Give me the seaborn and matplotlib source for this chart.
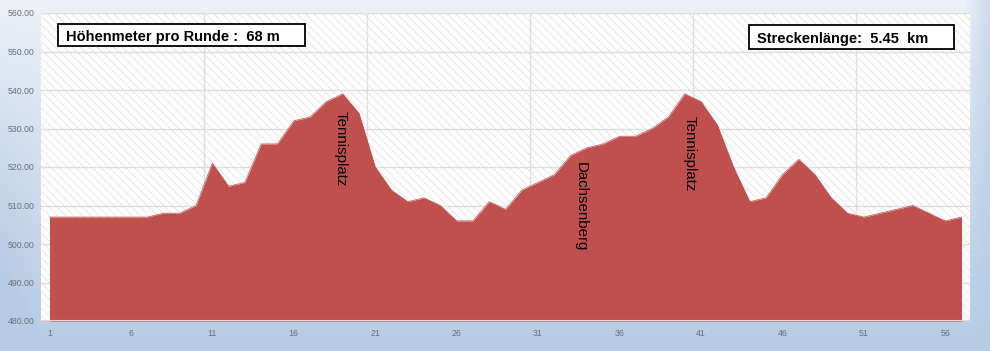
import numpy as np
import pandas as pd
import matplotlib
matplotlib.use("Agg")
import matplotlib.pyplot as plt
import seaborn as sns
from matplotlib.patches import Rectangle

# ---- data ----
points = list(range(1, 58))
elevation = [507, 507, 507, 507, 507, 507, 507, 508, 508, 510,
             521, 515, 516, 526, 526, 532, 533, 537, 539, 534,
             520, 514, 511, 512, 510, 506, 506, 511, 509, 514,
             516, 518, 523, 525, 526, 528, 528, 530, 533, 539,
             537, 531, 520, 511, 512, 518, 522, 518, 512, 508,
             507, 508, 509, 510, 508, 506, 507]
y_ticks = [480, 490, 500, 510, 520, 530, 540, 550, 560]
x_ticks = [1, 6, 11, 16, 21, 26, 31, 36, 41, 46, 51, 56]
place_labels = ["Tennisplatz", "Dachsenberg", "Tennisplatz"]
place_x = [18.85, 33.6, 40.3]
place_y = [534.5, 521.3, 533.3]
info_left = "Höhenmeter pro Runde :  68 m"
info_right = "Streckenlänge:  5.45  km"

df = pd.DataFrame({"Punkt": points, "Hoehe": elevation})

sns.set_theme(style="white")
plt.rcParams["font.family"] = ["Liberation Sans", "DejaVu Sans"]
plt.rcParams["hatch.linewidth"] = 0.6

W, H = 990, 351
fig = plt.figure(figsize=(W / 100, H / 100), dpi=100)

# background gradient
bg = fig.add_axes([0, 0, 1, 1], zorder=-10)
yy, xx = np.mgrid[0:H, 0:W]
yf = yy / (H - 1)
xf = xx / (W - 1)
t = np.clip(0.05 + 0.95 * yf ** 0.9
            + 0.55 * np.clip((xf - 0.975) / 0.025, 0, 1) * (1 - yf)
            + 0.25 * np.clip((0.04 - xf) / 0.04, 0, 1) * yf, 0, 1)
top = np.array([0xf1, 0xf4, 0xf9]) / 255
bot = np.array([0xb6, 0xcb, 0xe4]) / 255
img = top[None, None, :] * (1 - t[..., None]) + bot[None, None, :] * t[..., None]
bg.imshow(img, aspect="auto", extent=[0, 1, 0, 1], origin="upper")
bg.axis("off")

ax = fig.add_axes([41 / W, 30 / H, 929 / W, 308 / H])
ax.set_facecolor("white")
ax.add_patch(Rectangle((0, 0), 1, 1, transform=ax.transAxes, facecolor="white",
                       edgecolor="#e2e2e2", hatch="\\\\\\\\", linewidth=0, zorder=0))

ax.set_xlim(0.48, 57.52)
ax.set_ylim(480, 560)

# grid
for yv in y_ticks[1:]:
    ax.axhline(yv, color="#dedede", lw=1.0, zorder=1)
for xv in [10.5, 20.5, 30.5, 40.5, 50.5]:
    ax.axvline(xv, color="#dedede", lw=1.0, zorder=1)

sns.lineplot(data=df, x="Punkt", y="Hoehe", ax=ax, color="#c0504d", lw=0.5, zorder=3)
ax.fill_between(df["Punkt"], df["Hoehe"], 480, color="#c0504d", lw=0, zorder=3)
ax.axhline(480, color="#e6d3d2", lw=1.5, zorder=4)

ax.set_yticks(y_ticks)
ax.set_yticklabels([f"{v:.2f}" for v in y_ticks], fontsize=6.3, color="#66707c")
ax.set_xticks(x_ticks)
ax.set_xticklabels([str(v) for v in x_ticks], fontsize=6.3, color="#66707c")
ax.tick_params(axis="y", length=0, pad=4.5)
ax.tick_params(axis="x", length=0, pad=6)
ax.set_xlabel("")
ax.set_ylabel("")
for s in ax.spines.values():
    s.set_visible(False)

for lab, xv, yv in zip(place_labels, place_x, place_y):
    ax.text(xv, yv, lab, rotation=-90, ha="center", va="top", fontsize=10.8,
            color="black", zorder=5)

# info boxes (figure pixel coords converted to fraction)
def box(x0, y0, x1, y1, tx, text):
    fig.patches.append(Rectangle((x0 / W, 1 - y1 / H), (x1 - x0) / W, (y1 - y0) / H,
                                 transform=fig.transFigure, facecolor="white",
                                 edgecolor="black", lw=1.3, zorder=20))
    fig.text(tx / W, 1 - ((y0 + y1) / 2) / H, text, ha="left", va="center_baseline",
             fontsize=10.5, fontweight="bold", color="black", zorder=21)

box(58, 24, 305, 46, 66, info_left)
box(749, 25, 954, 49, 757, info_right)

fig.savefig("out.png", dpi=100)
